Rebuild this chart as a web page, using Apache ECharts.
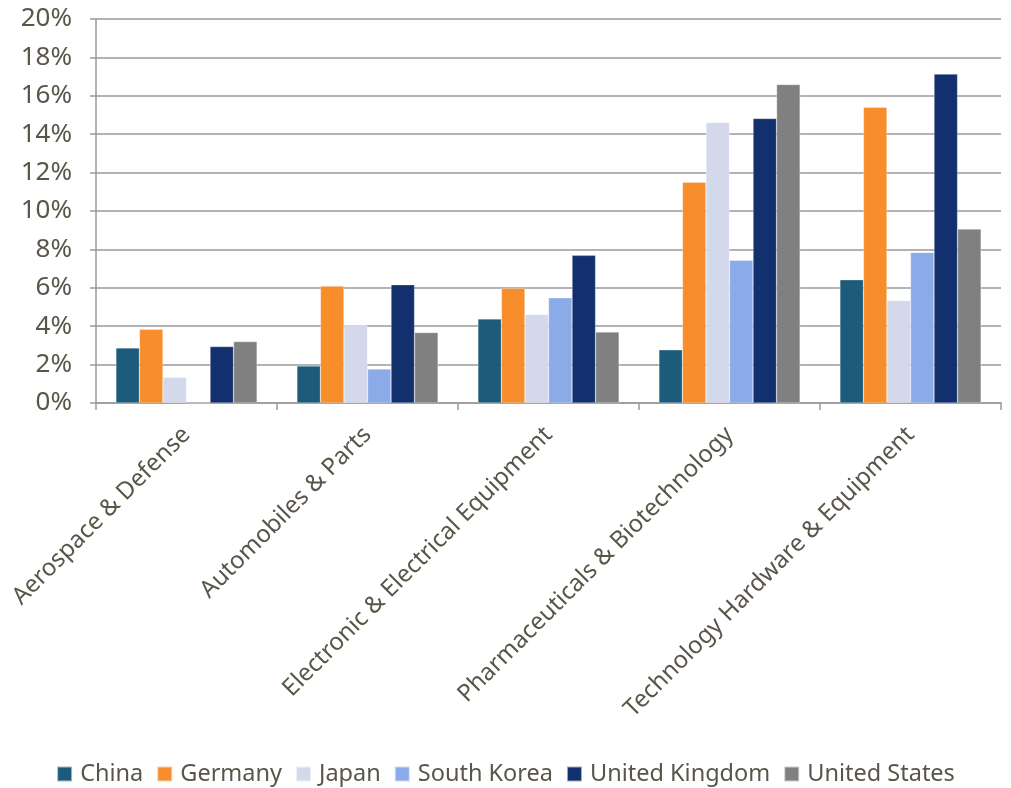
<!DOCTYPE html>
<html><head><meta charset="utf-8">
<script src="https://cdn.jsdelivr.net/npm/echarts@6/dist/echarts.min.js"></script>
<style>html,body{margin:0;padding:0;background:#fff}#c{width:1011px;height:788px}</style>
</head><body><div id="c"></div>
<script>
const categories = ["Aerospace & Defense","Automobiles & Parts","Electronic & Electrical Equipment","Pharmaceuticals & Biotechnology","Technology Hardware & Equipment"];
const seriesNames = ["China","Germany","Japan","South Korea","United Kingdom","United States"];
const china = [2.87, 1.93, 4.38, 2.77, 6.42];
const germany = [3.84, 6.09, 5.98, 11.50, 15.41];
const japan = [1.34, 4.05, 4.61, 14.61, 5.34];
const southKorea = [0, 1.77, 5.48, 7.43, 7.84];
const unitedKingdom = [2.94, 6.16, 7.69, 14.82, 17.13];
const unitedStates = [3.20, 3.67, 3.70, 16.59, 9.06];
const yTicks = [0, 2, 4, 6, 8, 10, 12, 14, 16, 18, 20];

const colors = ["#1d5b7a","#f78d2b","#d3d9ea","#8aaae8","#122f6e","#808080"];
const values = [china, germany, japan, southKorea, unitedKingdom, unitedStates];
const textColor = "#595649";
const font = "Noto Sans";

const chart = echarts.init(document.getElementById('c'));
chart.setOption({
  animation: false,
  color: colors,
  grid: {left: 96, right: 10, top: 19, bottom: 385, containLabel: false},
  legend: {
    top: 757, left: 'center',
    itemWidth: 15, itemHeight: 15, itemGap: 13,
    icon: 'rect',
    textStyle: {color: textColor, fontSize: 23.5, fontFamily: font, padding: [0,0,0,3]},
    data: seriesNames
  },
  xAxis: {
    type: 'category', data: categories,
    axisLine: {lineStyle: {color: '#9a9a9a', width: 1.5}},
    axisTick: {show: true, length: 7, lineStyle: {color: '#9a9a9a', width: 1.5}},
    axisLabel: {rotate: 45, color: textColor, fontSize: 24, fontFamily: font, margin: 28, interval: 0}
  },
  yAxis: {
    type: 'value', min: yTicks[0], max: yTicks[yTicks.length-1], interval: 2,
    axisLine: {show: true, lineStyle: {color: '#9a9a9a', width: 1.5}},
    axisTick: {show: true, length: 6, lineStyle: {color: '#9a9a9a', width: 1.5}},
    splitLine: {lineStyle: {color: '#9a9a9a', width: 1.5}},
    axisLabel: {color: textColor, fontSize: 26, fontFamily: font, margin: 24, formatter: v => v + '%'}
  },
  series: seriesNames.map((n, i) => ({
    name: n, type: 'bar', data: values[i],
    barGap: '0%', barCategoryGap: '22%',
    itemStyle: {color: colors[i], borderColor: 'rgba(255,255,255,0.6)', borderWidth: 0.5}
  }))
});
</script></body></html>
